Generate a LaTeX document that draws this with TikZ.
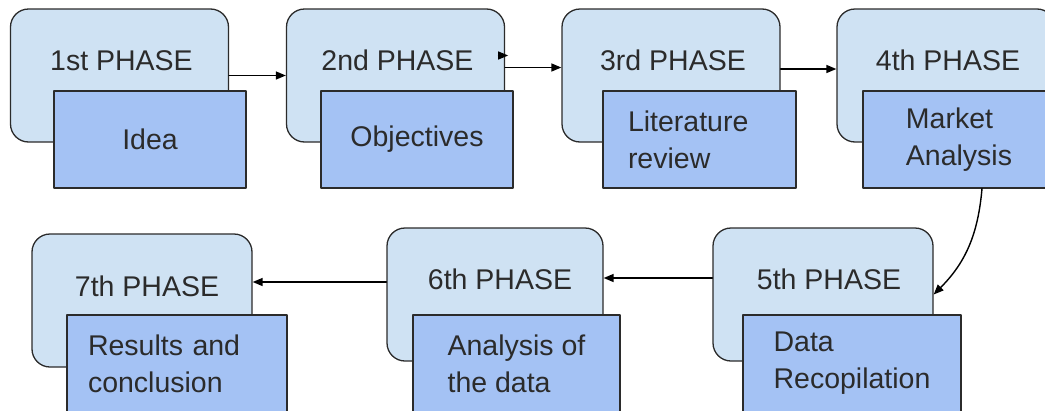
\documentclass[tikz,border=0pt]{standalone}
\usepackage{fontspec}
\setmainfont{Liberation Sans}
\usetikzlibrary{arrows.meta}
\definecolor{phaseblue}{HTML}{CFE2F3}
\definecolor{taskblue}{HTML}{A4C2F4}
\definecolor{darkline}{HTML}{2B2B2B}
\begin{document}
\begin{tikzpicture}[line cap=round,line join=round,>={Triangle[length=10pt,width=8pt]},x=1pt,y=-1pt,
  phase/.style={draw=darkline,fill=phaseblue,line width=1.3pt,rounded corners=18pt,minimum width=218pt,minimum height=133pt},
  task/.style={draw=darkline,fill=taskblue,line width=1.3pt,minimum width=192pt,minimum height=97pt,align=left,text=darkline,
    font=\fontsize{28.5}{37}\selectfont},
  phasetext/.style={text=darkline,font=\fontsize{28.5}{37}\selectfont,inner sep=0pt},
  link/.style={->,draw=black,line width=1.4pt}]
\useasboundingbox (0,0) rectangle (1045,410);
\clip (0,0) rectangle (1045,410);
% first row
\node[phase] (p1) at (119.5,75.5) {};
\node[phase] (p2) at (395.5,75.5) {};
\node[phase] (p3) at (671,75.5) {};
\node[phase] (p4) at (946,75.5) {};
% second row
\node[phase,minimum width=220pt] (p7) at (142,300.5) {};
\node[phase,minimum width=216pt] (p6) at (495,294.5) {};
\node[phase,minimum width=220pt] (p5) at (823,294.5) {};
\node[phasetext] (t1) at ([xshift=2pt,yshift=-52pt]p1.north) {1st PHASE};
\node[phasetext] (t2) at ([xshift=2pt,yshift=-52pt]p2.north) {2nd PHASE};
\node[phasetext] (t3) at ([xshift=2pt,yshift=-52pt]p3.north) {3rd PHASE};
\node[phasetext] (t4) at ([xshift=2pt,yshift=-52pt]p4.north) {4th PHASE};
\node[phasetext] (t5) at ([xshift=6pt,yshift=-52pt]p5.north) {5th PHASE};
\node[phasetext] (t6) at ([xshift=5pt,yshift=-52pt]p6.north) {6th PHASE};
\node[phasetext] (t7) at ([xshift=5pt,yshift=-53pt]p7.north) {7th PHASE};
% tasks
\node[task] (b1) at (150,139.5) {Idea};
\node[task] (b2) at (417,139.5) {Objectives};
\node[task,minimum width=193pt,text width=143pt] (b3) at (699.5,139.5) {Literature\\review};
\node[task] (b4) at (959,139.5) {Market\\Analysis};
\node[task,minimum width=218pt] (b5) at (852,363.5) {Data\\Recopilation};
\node[task,minimum width=207pt] (b6) at (516.5,363.5) {Analysis of\\the data};
\node[task,minimum width=220pt,text width=178pt] (b7) at (177,363.5) {Results and\\conclusion};
% links
\draw[link] (p1.east) -- (p2.west);
\coordinate (stub) at ([xshift=3pt,yshift=20pt]p2.east);
\draw[link] ([yshift=20pt]p2.east) -- (stub);
\draw[link] ([yshift=8pt]p2.east) -- ([yshift=8pt]p2.east -| p3.west);
\draw[link] ([yshift=6.5pt]p3.east) -- ([yshift=6.5pt]p3.east -| p4.west);
\draw[link] ([xshift=23pt]b4.south) to[out=-95,in=45] (p5.east);
\draw[link] ([yshift=16.5pt]p5.west) -- ([yshift=16.5pt]p5.west -| p6.east);
\draw[link] ([yshift=12.5pt]p6.west) -- ([yshift=12.5pt]p6.west -| p7.east);
\end{tikzpicture}
\end{document}
